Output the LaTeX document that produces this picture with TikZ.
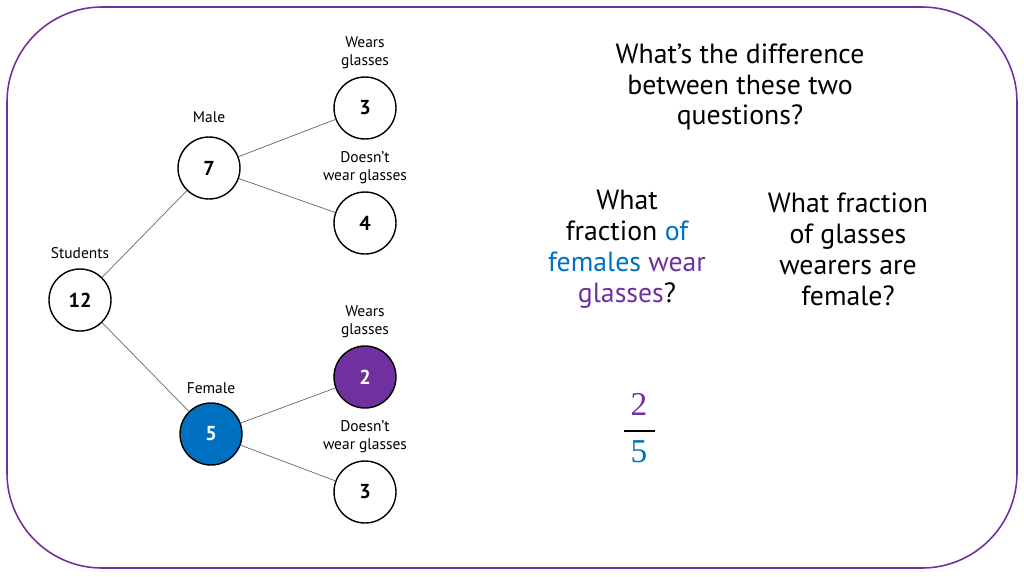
\documentclass[tikz,border=0pt]{standalone}
\usepackage{fontspec}
\setmainfont{PT Sans}
\newfontfamily\fracfont{Liberation Serif}
\usetikzlibrary{positioning}
\definecolor{slidepurple}{HTML}{7030A0}
\definecolor{slideblue}{HTML}{0070C0}
\tikzset{
  count/.style={circle, draw=black, thick, fill=white, minimum size=12.4mm,
                inner sep=0pt, font=\bfseries\fontsize{11.5}{13}\selectfont},
  branch/.style={draw=black!60, line width=0.4pt},
  tag/.style={align=center, inner sep=1pt, font=\fontsize{8.8}{10.2}\selectfont},
  question/.style={align=center, inner sep=0pt, font=\fontsize{15.8}{17.6}\selectfont},
  fracpart/.style={inner sep=0pt, font=\fracfont\fontsize{19}{20}\selectfont}
}
\newcommand{\blu}[1]{\textcolor{slideblue}{#1}}
\newcommand{\pur}[1]{\textcolor{slidepurple}{#1}}

\begin{document}
\begin{tikzpicture}[x=0.02cm, y=-0.02cm, node distance=1.1mm]
  \useasboundingbox (0,0) rectangle (1024,576);
  \draw[slidepurple, line width=0.9pt, rounded corners=1.9cm] (7,7) rectangle (1017,568);

  % tree
  \node[count] (students) at (80,300) {12};
  \node[count] (male) at (209,168) {7};
  \node[count] (female) at (211,434) [fill=slideblue, text=white] {5};
  \node[count] (mglass) at (365,108) {3};
  \node[count] (mnoglass) at (365,223) {4};
  \node[count] (fglass) at (365,377) [fill=slidepurple, text=white] {2};
  \node[count] (fnoglass) at (365,492) {3};

  \node[tag, above=1.6mm of students] {Students};
  \node[tag, above=2.4mm of male] {Male};
  \node[tag, above=1.4mm of female] {Female};
  \node[tag, above=of mglass] {Wears\\glasses};
  \node[tag, above=of mnoglass] {Doesn’t\\wear glasses};
  \node[tag, above=of fglass] {Wears\\glasses};
  \node[tag, above=of fnoglass] {Doesn’t\\wear glasses};

  \draw[branch] (students) -- (male);
  \draw[branch] (students) -- (female);
  \draw[branch] (male) -- (mglass);
  \draw[branch] (male) -- (mnoglass);
  \draw[branch] (female) -- (fglass);
  \draw[branch] (female) -- (fnoglass);

  % questions
  \node[question] (ask) at (740,87) {What’s the difference\\between these two\\questions?};
  \node[question] (qleft) at (627,249) {What\\fraction \blu{of}\\\blu{females} \pur{wear}\\\pur{glasses}?};
  \node[question] (qright) at (848,249) {What fraction\\of glasses\\wearers are\\female?};

  % answer
  \node[fracpart, text=slidepurple] (num) at (639,404) {2};
  \node[inner sep=0pt] (bar) at (639,431) {\rule{0.62cm}{0.9pt}};
  \node[fracpart, text=slideblue] (den) at (639,452) {5};
\end{tikzpicture}
\end{document}
